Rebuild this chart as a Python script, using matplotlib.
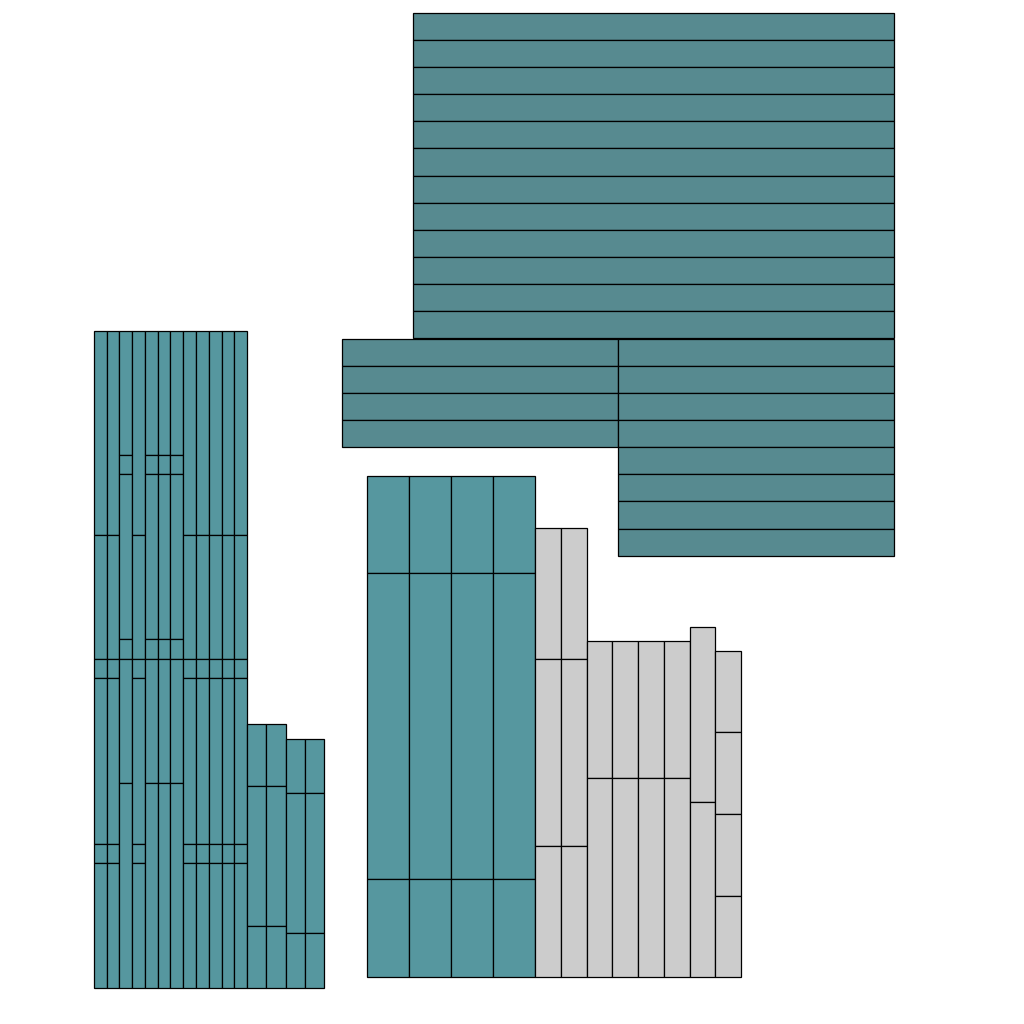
import numpy as np
import matplotlib
matplotlib.use("Agg")
import matplotlib.pyplot as plt

TEAL = "#56979f"
TEAL_DARK = "#578a90"
GRAY = "#cccccc"

# left block: 12 thin columns, two stacking orders
stack_a = [204, 124, 19, 166, 19, 125]
stack_b = [124, 19, 165, 20, 124, 205]
thin_pattern = ["a", "a", "b", "a", "b", "b", "b", "a", "a", "a", "a", "a"]
thin_width = 12.77
mid_stack_1 = [62, 140, 62]
mid_width_1 = 19.4
mid_stack_2 = [54, 140, 55]
mid_width_2 = 19.1

# middle block: 4 teal columns, then grey columns
teal_stack = [97, 306, 98]
teal_cols = 4
teal_width = 42
grey_stacks = [
    [131, 187, 131],
    [131, 187, 131],
    [137, 199],
    [137, 199],
    [137, 199],
    [137, 199],
    [175, 175],
    [81, 82, 82, 81],
]
grey_width = 25.75

# top-right block: horizontal strips
row_height = 27.15
wide_rows = 12
wide_len = 481
split_rows = 4
split_len = [276, 276]
tail_rows = 4
tail_len = 276


def column(ax, x, base, stack, w, color):
    bottom = base - sum(stack)
    for h in stack:
        ax.bar(x, h, width=w, bottom=bottom, align="edge", color=color,
               edgecolor="black", linewidth=0.9)
        bottom += h


fig = plt.figure(figsize=(10.24, 10.24), dpi=100)
ax = fig.add_axes([0, 0, 1, 1])
ax.set_xlim(0, 1024)
ax.set_ylim(1024, 0)
ax.axis("off")

# left block
x = 93.8
for p in thin_pattern:
    column(ax, x, 987.7, stack_a if p == "a" else stack_b, thin_width, TEAL)
    x += thin_width
for _ in range(2):
    column(ax, x, 987.7, mid_stack_1, mid_width_1, TEAL)
    x += mid_width_1
for _ in range(2):
    column(ax, x, 987.7, mid_stack_2, mid_width_2, TEAL)
    x += mid_width_2

# middle block
x = 367
for _ in range(teal_cols):
    column(ax, x, 977, teal_stack, teal_width, TEAL)
    x += teal_width
for s in grey_stacks:
    column(ax, x, 977, s, grey_width, GRAY)
    x += grey_width

# top-right block
right = 894
y = 12.7
for _ in range(wide_rows):
    ax.barh(y, wide_len, height=row_height, left=right - wide_len, align="edge",
            color=TEAL_DARK, edgecolor="black", linewidth=0.9)
    y += row_height
for _ in range(split_rows):
    left = right - sum(split_len)
    for w in split_len:
        ax.barh(y, w, height=row_height, left=left, align="edge",
                color=TEAL_DARK, edgecolor="black", linewidth=0.9)
        left += w
    y += row_height
for _ in range(tail_rows):
    ax.barh(y, tail_len, height=row_height, left=right - tail_len, align="edge",
            color=TEAL_DARK, edgecolor="black", linewidth=0.9)
    y += row_height

fig.savefig("out.png", dpi=100, facecolor="white")
